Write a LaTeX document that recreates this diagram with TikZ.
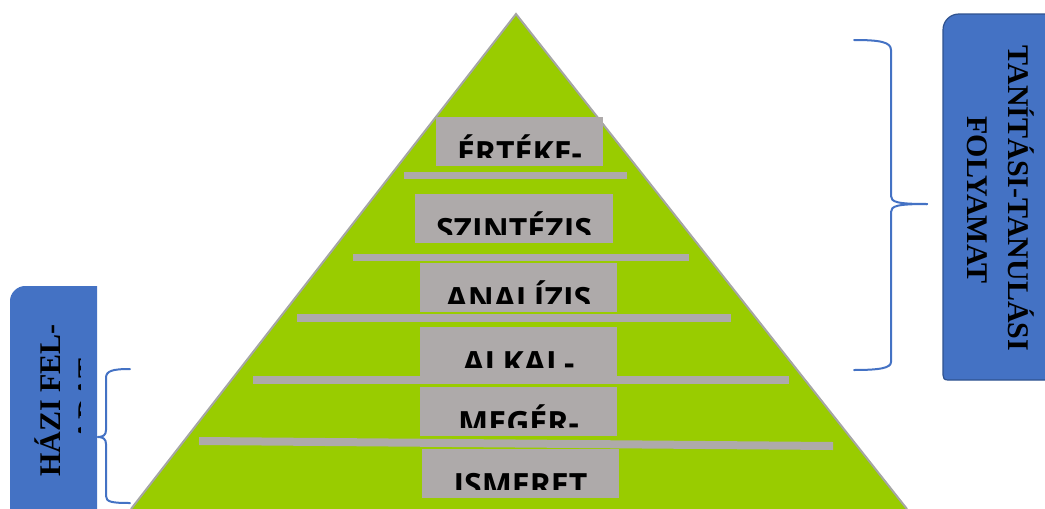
\documentclass[tikz,border=0pt]{standalone}
\usepackage{fontspec}
\setmainfont{Liberation Serif}
\newfontfamily\opensans{Open Sans}
\definecolor{pgreen}{HTML}{99CC00}
\definecolor{bargray}{HTML}{AEAAAA}
\definecolor{edgegray}{HTML}{A5A5A5}
\definecolor{bblue}{HTML}{4472C4}
\definecolor{bborder}{HTML}{2F528F}
\newcommand\levelbox[6]{%
  \node[lvlbox, minimum width={#4-#2}, minimum height={#5-#3}] (#1) at ({(#2+#4)/2},{(#3+#5)/2}) {};
  \begin{scope}
    \clip (#1.north west) rectangle ([yshift=9pt]#1.south east);
    \node[lvltext, anchor=base] (#1-t) at ([yshift=2pt]#1.south) {#6};
  \end{scope}}
\begin{document}
\begin{tikzpicture}[x=1pt,y=-1pt,
  lvlbox/.style={fill=bargray, draw=none, inner sep=0pt},
  lvltext/.style={font=\opensans\bfseries\fontsize{32}{38}\selectfont, inner sep=0pt, text=black},
  bar/.style={fill=bargray},
  sertext/.style={font=\bfseries\fontsize{30}{36}\selectfont, inner sep=0pt, text=black},
  bluebox/.style={fill=bblue, draw=bborder, line width=1.2pt},
  brace/.style={draw=bblue, line width=2pt, line cap=round}]
\useasboundingbox (0,0) rectangle (1045,509);
\clip (0,0) rectangle (1045,509);
% pyramid
\fill[pgreen] (516,14) -- (907,509) -- (131,509) -- cycle;
\draw[edgegray, line width=2pt] (131,509) -- (516,14) -- (907,509);
% bars
\fill[bar] (404,172) rectangle (627,179);
\fill[bar] (353,254) rectangle (689,261);
\fill[bar] (297,314) rectangle (731,322);
\fill[bar] (253,376) rectangle (789,384);
\fill[bar] (199,437) -- (833,442) -- (833,450) -- (199,445) -- cycle;
% level boxes
\levelbox{l6}{436}{117}{603}{166}{ÉRTÉKE-}
\levelbox{l5}{415}{194}{613}{243}{SZINTÉZIS}
\levelbox{l4}{420}{263}{617}{312}{ANALÍZIS}
\levelbox{l3}{420}{327}{617}{376}{ALKAL-}
\levelbox{l2}{420}{387}{617}{436}{MEGÉR-}
\levelbox{l1}{422}{449}{619}{498}{ISMERET}
% right box
\path[bluebox] (1050,14) -- (959,14) .. controls (950,14) and (943,21) .. (943,30) -- (943,375) .. controls (943,378) and (944,380) .. (948,380) -- (1050,380) -- cycle;
\node[sertext, rotate=-90, anchor=base] (r1) at (1008,198.5) {TANÍTÁSI-TANULÁSI};
\node[sertext, rotate=-90, anchor=base] (r2) at (967,200) {FOLYAMAT};
% left box
\path[bluebox, draw=none] (97,520) -- (97,286) -- (25,286) .. controls (17,286) and (10,293) .. (10,301) -- (10,520) -- cycle;
\node[sertext, rotate=90, anchor=base] (h1) at (60,400.5) {HÁZI FEL-};
\begin{scope}
  \clip (0,286) rectangle (80,509);
  \node[sertext, rotate=90, anchor=base] (h2) at (98,400) {ADAT};
\end{scope}
% braces
\draw[brace] (854,40) .. controls (880,40) and (891,42) .. (891,50) -- (891,196) .. controls (891,202) and (897,204) .. (927,204);
\draw[brace] (927,204) .. controls (897,204) and (891,206) .. (891,212) -- (891,362) .. controls (891,368) and (880,370) .. (854,370);
\draw[brace] (130,369) .. controls (112,369) and (106,371) .. (106,378) -- (106,430) .. controls (106,435) and (103,437) .. (98,437);
\draw[brace] (98,437) .. controls (103,437) and (106,439) .. (106,444) -- (106,496) .. controls (106,502) and (112,503) .. (130,503);
\end{tikzpicture}
\end{document}
